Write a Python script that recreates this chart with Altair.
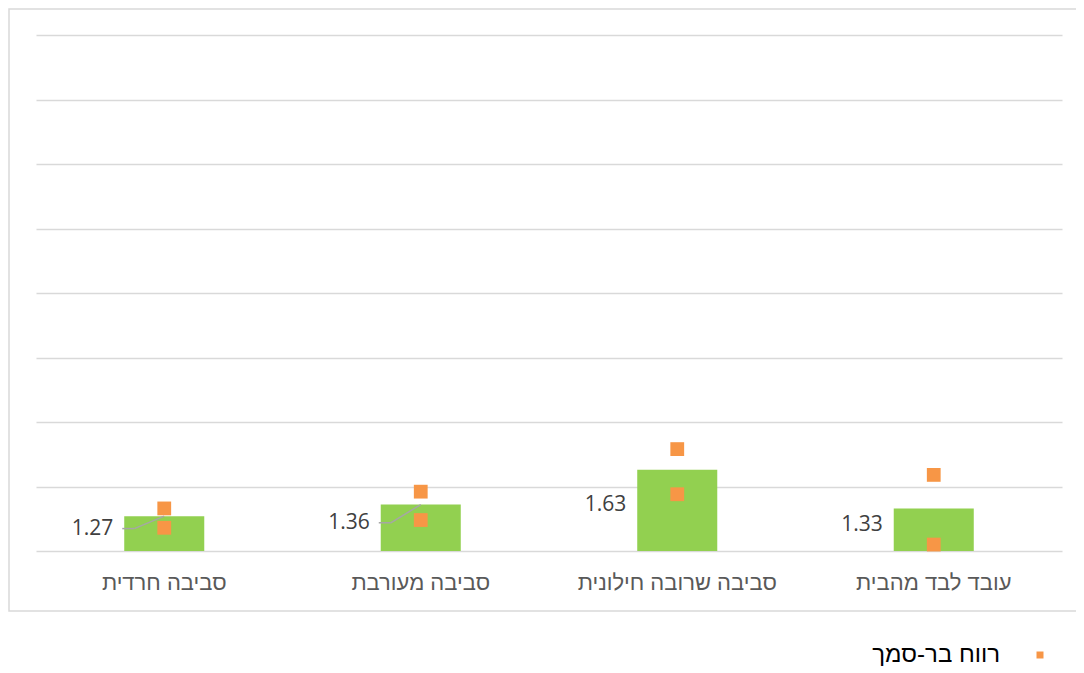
import altair as alt
import pandas as pd

categories = ["סביבה חרדית", "סביבה מעורבת", "סביבה שרובה חילונית", "עובד לבד מהבית"]
means = [1.27, 1.36, 1.63, 1.33]
ci_low = [1.18, 1.24, 1.44, 1.05]
ci_high = [1.33, 1.46, 1.79, 1.59]
has_leader = [True, True, False, False]
legend_label = ["רווח בר-סמך"]
y_ticks = [1, 1.5, 2, 2.5, 3, 3.5, 4, 4.5, 5]

GREEN = "#92D050"
ORANGE = "#F79646"
GRID = "#D9D9D9"
HEB_FONT = "Liberation Sans"
NUM_FONT = "Open Sans"

W, H = 1026, 516

df = pd.DataFrame({"cat": categories, "mean": means, "lo": ci_low, "hi": ci_high, "leader": has_leader})
df["mid"] = [(1 + m) / 2 for m in means]
ci_df = pd.DataFrame({
    "cat": categories * 2,
    "v": ci_low + ci_high,
})

xscale = alt.Scale(domain=categories, paddingInner=0.688, paddingOuter=0.344)
yscale = alt.Scale(domain=[1, 5], zero=False, nice=False)

x_enc = alt.X("cat:N", scale=xscale, sort=categories,
              axis=alt.Axis(title=None, labelAngle=0, domain=False, ticks=False, tickSize=0,
                            grid=False, labelLimit=0,
                            labelFontSize=22, labelColor="#595959", labelFont=HEB_FONT,
                            labelPadding=31, labelBaseline="middle"))

base = alt.Chart(df)

bars = base.mark_bar(color=GREEN).encode(
    x=x_enc,
    y=alt.Y("mean:Q", scale=yscale,
            axis=alt.Axis(title=None, labels=False, ticks=False, domain=False,
                          values=y_ticks, gridColor=GRID, gridWidth=1.5)),
    y2=alt.datum(1),
)

squares = alt.Chart(ci_df).mark_square(size=190, color=ORANGE, opacity=1).encode(
    x=alt.X("cat:N", scale=xscale, sort=categories),
    y=alt.Y("v:Q", scale=yscale),
)

leader_diag = base.transform_filter("datum.leader").mark_rule(
    color="#A6A6A6", strokeWidth=1.5, xOffset=-30, x2Offset=0, yOffset=-5, y2Offset=0
).encode(
    x=alt.X("cat:N", scale=xscale, sort=categories),
    x2="cat:N",
    y=alt.Y("mid:Q", scale=yscale),
    y2="mean:Q",
)

leader_h = base.transform_filter("datum.leader").mark_rule(
    color="#A6A6A6", strokeWidth=1.5, xOffset=-42, x2Offset=-30, yOffset=-5
).encode(
    x=alt.X("cat:N", scale=xscale, sort=categories),
    x2="cat:N",
    y=alt.Y("mid:Q", scale=yscale),
)

labels = base.mark_text(align="right", baseline="middle", dx=-51, dy=-5,
                        fontSize=21, font=NUM_FONT, color="#404040").encode(
    x=alt.X("cat:N", scale=xscale, sort=categories),
    y=alt.Y("mid:Q", scale=yscale),
    text=alt.Text("mean:Q", format=".2f"),
)

leg_df = pd.DataFrame({"label": legend_label})
leg_sym = alt.Chart(leg_df).mark_square(size=49, color=ORANGE, opacity=1).encode(
    x=alt.value(1004), y=alt.value(620)
)
leg_txt = alt.Chart(leg_df).mark_text(align="right", baseline="middle", fontSize=24,
                                      font=HEB_FONT, color="#000000").encode(
    x=alt.value(964), y=alt.value(620), text="label:N"
)

border = alt.Chart(leg_df).mark_rect(fill=None, stroke=GRID, strokeWidth=1.5).encode(
    x=alt.value(-27), x2=alt.value(1060), y=alt.value(-26), y2=alt.value(576)
)

chart = alt.layer(border, bars, leader_h, leader_diag, squares, labels, leg_sym, leg_txt).properties(
    width=W, height=H,
    padding={"left": 28, "top": 27, "right": 14, "bottom": 115},
    autosize=alt.AutoSizeParams(type="none"),
    background="white",
).configure_view(stroke=None)

chart.save("out.html", embed_options={"renderer": "svg", "actions": False})
